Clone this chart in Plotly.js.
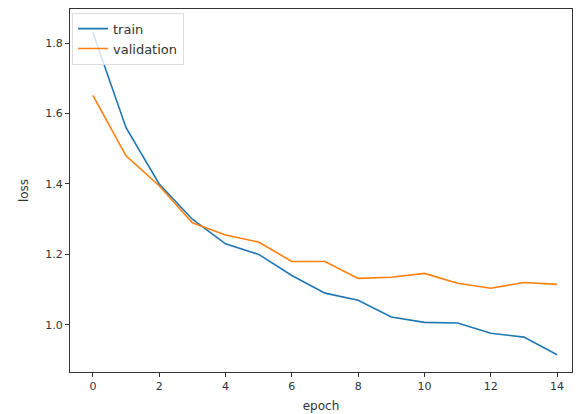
<!DOCTYPE html>
<html>
<head>
<meta charset="utf-8">
<script src="https://cdn.plot.ly/plotly-3.0.1.min.js"></script>
<style>html,body{margin:0;padding:0;background:#fff;}#chart{width:582px;height:414px;}</style>
</head>
<body>
<div id="chart"></div>
<script>
const epochs = [0,1,2,3,4,5,6,7,8,9,10,11,12,13,14];
const trainLoss = [1.83, 1.56, 1.40, 1.30, 1.23, 1.20, 1.14, 1.09, 1.07, 1.022, 1.007, 1.005, 0.976, 0.965, 0.915];
const valLoss = [1.652, 1.48, 1.395, 1.29, 1.255, 1.235, 1.18, 1.18, 1.132, 1.135, 1.146, 1.118, 1.104, 1.12, 1.115];
const xTicks = [0,2,4,6,8,10,12,14];
const yTicks = [1.0,1.2,1.4,1.6,1.8];

const traces = [
  {x: epochs, y: trainLoss, name: 'train', type: 'scatter', mode: 'lines', line: {color: '#1f77b4', width: 1.6}},
  {x: epochs, y: valLoss, name: 'validation', type: 'scatter', mode: 'lines', line: {color: '#ff7f0e', width: 1.6}}
];
const axisCommon = {
  showgrid: false, zeroline: false, showline: true, mirror: true,
  linecolor: '#333', linewidth: 1, ticks: 'outside', ticklen: 4, tickcolor: '#333',
  tickfont: {family: 'DejaVu Sans', size: 11, color: '#333'}
};
const layout = {
  width: 582, height: 414,
  margin: {l: 70, r: 10, t: 9, b: 42},
  paper_bgcolor: '#fff', plot_bgcolor: '#fff',
  showlegend: true,
  legend: {x: 0.004, y: 0.99, xanchor: 'left', yanchor: 'top', bgcolor: 'rgba(255,255,255,0.8)',
           bordercolor: '#ddd', borderwidth: 1, font: {family: 'DejaVu Sans', size: 13, color: '#333'}, tracegroupgap: 0},
  xaxis: Object.assign({}, axisCommon, {range: [-0.69, 14.45], tickvals: xTicks, ticktext: xTicks.map(String),
           title: {text: 'epoch', font: {family: 'DejaVu Sans', size: 12, color: '#333'}, standoff: 9}}),
  yaxis: Object.assign({}, axisCommon, {range: [0.866, 1.897], tickvals: yTicks, ticktext: yTicks.map(v => v.toFixed(1)),
           title: {text: 'loss', font: {family: 'DejaVu Sans', size: 12, color: '#333'}, standoff: 14}})
};
Plotly.newPlot('chart', traces, layout, {staticPlot: true});
</script>
</body>
</html>
